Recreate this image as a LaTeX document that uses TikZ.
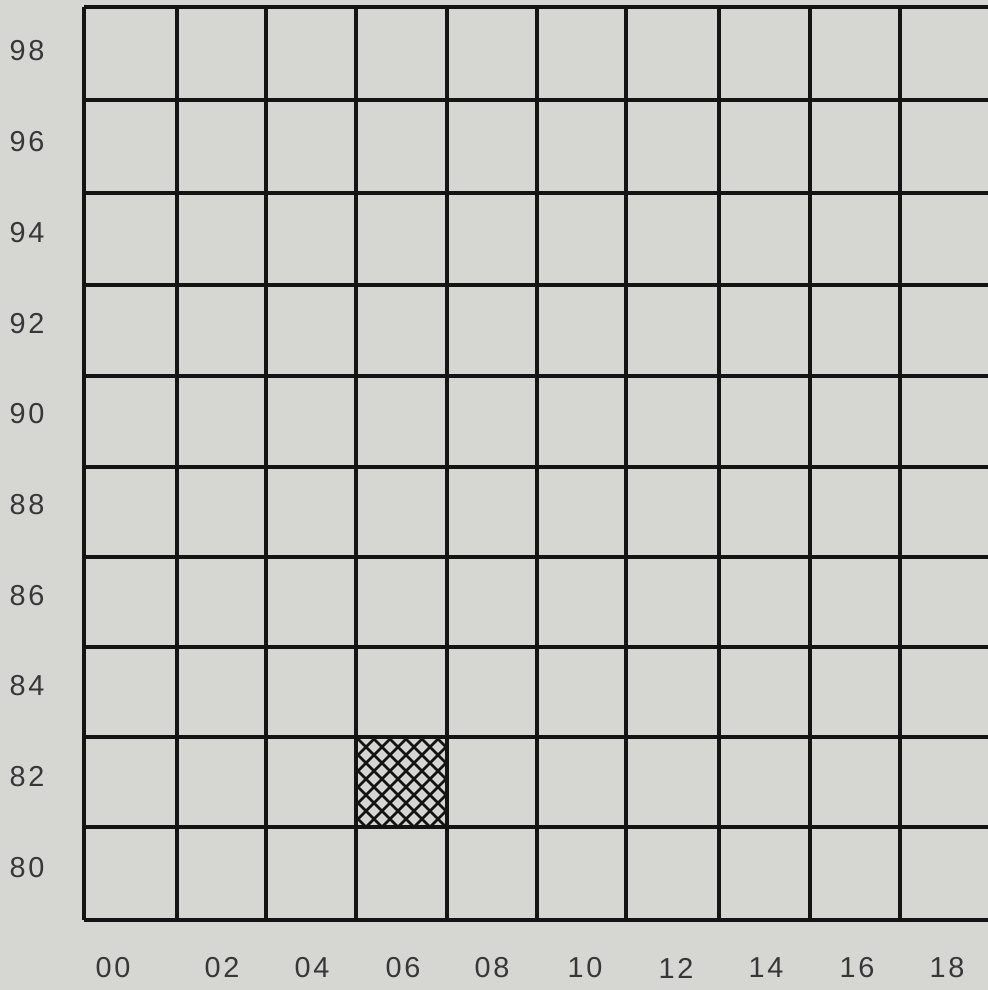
\documentclass[tikz,border=0pt]{standalone}
\usepackage{fontspec}
\setmainfont{Liberation Sans}[LetterSpace=10]
\definecolor{paper}{RGB}{214,215,210}
\definecolor{ink}{RGB}{20,20,20}
\tikzset{
    gridline/.style={line width=1pt, draw=ink},
    hatchline/.style={line width=0.75pt, draw=ink},
    axislabel/.style={font=\fontsize{8.2}{9}\selectfont, text=ink!85, inner sep=0pt}
}

\begin{document}
\begin{tikzpicture}[x=0.01cm, y=-0.01cm]

\fill[paper] (0,0) rectangle (988,990);
\useasboundingbox (0,0) rectangle (988,990);

% hatched square (06 / 82)
\begin{scope}
    \clip (356,737) rectangle (447,827);
    \foreach \d in {244,260,...,460} {
        \draw[hatchline] (\d,737) -- ++(100,100);
        \draw[hatchline] (\d+100,737) -- ++(-100,100);
    }
\end{scope}

% grid
\foreach \x in {84,177,266,356,447,537,626,719,810,900}
    \draw[gridline] (\x,7) -- (\x,920);
\foreach \y in {7,100,193,285,376,467,557,647,737,827,920}
    \draw[gridline] (84,\y) -- (988,\y);

% row labels
\foreach \v [count=\i from 0] in {98,96,...,80}
    \node[axislabel] (row\v) at (27,51+90.7*\i) {\v};

% column labels
\foreach \v/\x in {00/113,02/222,04/312,06/403,08/492,10/585,12/676,14/766,16/857,18/947}
    \node[axislabel] (col\v) at (\x,968) {\v};

\end{tikzpicture}
\end{document}
